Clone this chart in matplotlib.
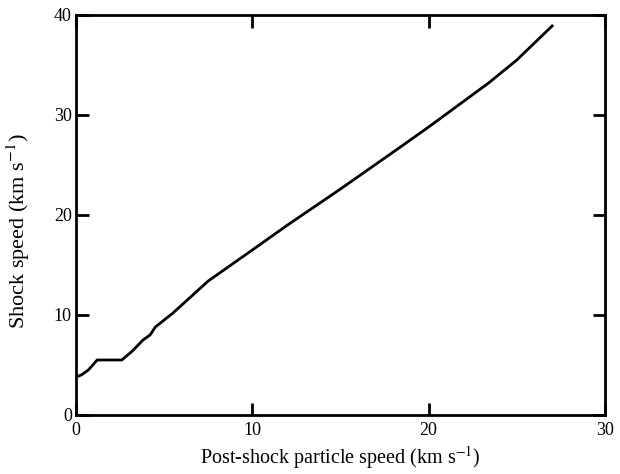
import matplotlib.pyplot as plt

# post-shock particle speed (km/s) vs shock speed (km/s)
particle_speed = [0, 0.3, 0.7, 1.2, 2.0, 2.6, 3.2, 3.8, 4.2, 4.5, 5.5, 7.5,
                  10, 12, 15, 18.4, 20, 23.4, 25, 27.0]
shock_speed = [3.8, 4.0, 4.5, 5.5, 5.5, 5.5, 6.4, 7.5, 8.0, 8.8, 10.2, 13.4,
               16.5, 19.0, 22.6, 26.8, 28.8, 33.2, 35.5, 38.9]

x_ticks = [0, 10, 20, 30]
y_ticks = [0, 10, 20, 30, 40]

plt.rcParams['font.family'] = ['Liberation Serif', 'DejaVu Serif']
plt.rcParams['mathtext.fontset'] = 'stix'

fig = plt.figure(figsize=(6.2, 4.74), dpi=100)
ax = fig.add_axes([0.1226, 0.1245, 0.8532, 0.8439])

ax.plot(particle_speed, shock_speed, color='black', lw=2.0)

ax.set_xlim(0, 30)
ax.set_ylim(0, 40)
ax.set_xticks(x_ticks)
ax.set_yticks(y_ticks)

for s in ax.spines.values():
    s.set_linewidth(2.0)

ax.tick_params(direction='in', top=True, right=True, length=9, width=2,
               labelsize=13)
ax.tick_params(axis='x', pad=5)
ax.tick_params(axis='y', pad=3)

ax.set_xlabel('Post-shock particle speed (km s$^{-1}$)', fontsize=14.5)
ax.set_ylabel('Shock speed (km s$^{-1}$)', fontsize=16)
ax.xaxis.set_label_coords(0.5, -0.072)
ax.yaxis.set_label_coords(-0.083, 0.46)

fig.savefig('out.png', dpi=100)
